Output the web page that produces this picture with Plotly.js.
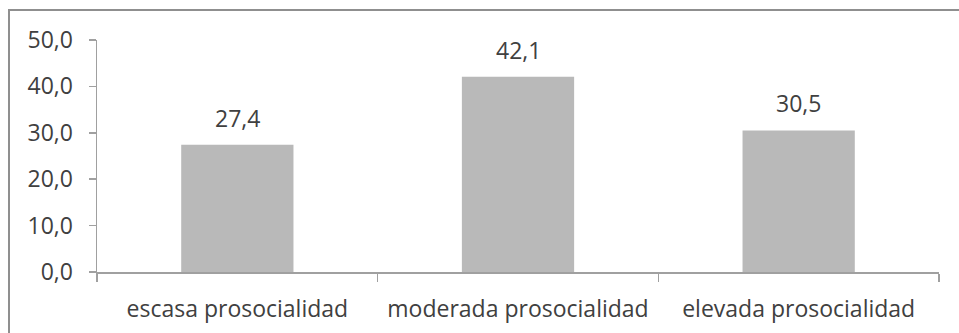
<!DOCTYPE html>
<html>
<head>
<meta charset="utf-8">
<script src="https://cdn.plot.ly/plotly-3.0.1.min.js"></script>
<style>
  html, body { margin: 0; padding: 0; background: #fff; }
  #wrap { position: relative; width: 959px; height: 333px; overflow: hidden; }
  #chart { width: 959px; height: 333px; }
  #frame { position: absolute; left: 8px; top: 9px; width: 1200px; height: 600px;
           border-left: 2px solid #8f8f8f; border-top: 2px solid #8f8f8f; pointer-events: none; }
</style>
</head>
<body>
<div id="wrap">
  <div id="chart"></div>
  <div id="frame"></div>
</div>
<script>
const categories = ["escasa prosocialidad", "moderada prosocialidad", "elevada prosocialidad"];
const values = [27.4, 42.1, 30.5];
const yTicks = [0, 10, 20, 30, 40, 50];

const textColor = "#404040";
const lineColor = "#a0a0a0";
const fontFamily = "Open Sans, Noto Sans, sans-serif";
const fontSize = 23;

const trace = {
  type: "bar",
  x: categories,
  y: values,
  marker: { color: "#b9b9b9" },
  hoverinfo: "skip"
};

const annotations = categories.map((c, i) => ({
  x: c,
  y: values[i],
  xref: "x",
  yref: "y",
  text: values[i].toFixed(1).replace(".", ","),
  showarrow: false,
  yanchor: "bottom",
  yshift: 9,
  font: { family: fontFamily, size: fontSize, color: textColor }
}));

const layout = {
  width: 959,
  height: 333,
  margin: { l: 97, r: 20, t: 40, b: 61 },
  paper_bgcolor: "#ffffff",
  plot_bgcolor: "#ffffff",
  separators: ",.",
  bargap: 0.6,
  showlegend: false,
  font: { family: fontFamily, size: fontSize, color: textColor },
  xaxis: {
    type: "category",
    showline: true,
    linecolor: lineColor,
    linewidth: 1.5,
    ticks: "outside",
    tickson: "boundaries",
    ticklen: 8,
    tickcolor: lineColor,
    tickwidth: 1.5,
    showgrid: false,
    zeroline: false,
    ticklabelstandoff: 16,
    tickfont: { family: fontFamily, size: fontSize, color: textColor }
  },
  yaxis: {
    range: [0, 50],
    tickvals: yTicks,
    tickformat: ".1f",
    showline: true,
    linecolor: lineColor,
    linewidth: 1.5,
    ticks: "outside",
    ticklen: 7,
    tickcolor: lineColor,
    tickwidth: 1.5,
    showgrid: false,
    zeroline: false,
    ticklabelstandoff: 11,
    tickfont: { family: fontFamily, size: fontSize, color: textColor }
  },
  annotations: annotations
};

Plotly.newPlot("chart", [trace], layout, { displayModeBar: false, staticPlot: true });
</script>
</body>
</html>
